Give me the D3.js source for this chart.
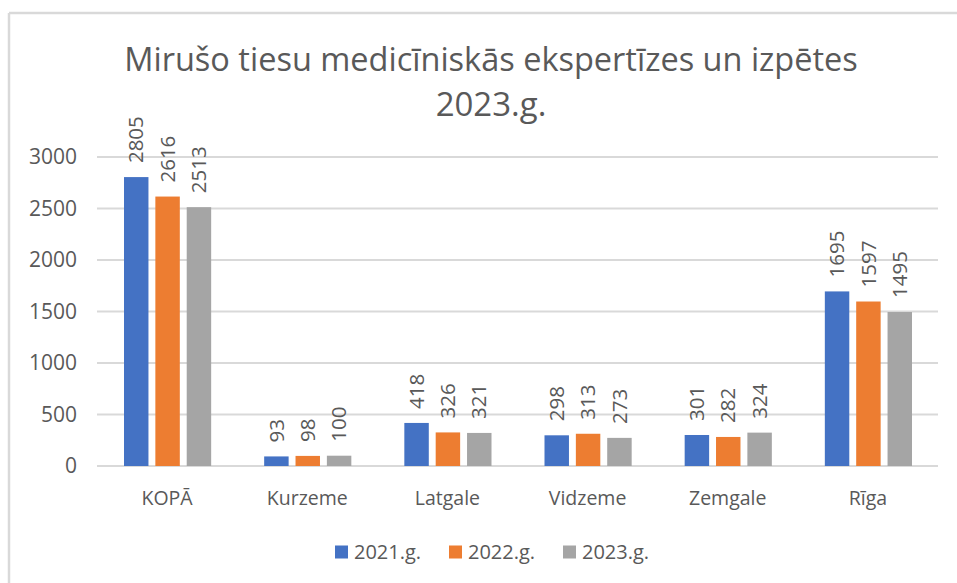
<!DOCTYPE html>
<html>
<head>
<meta charset="utf-8">
<script src="https://cdn.jsdelivr.net/npm/d3@7"></script>
<style>
  body { margin: 0; background: #fff; }
  svg { display: block; font-family: "Open Sans", "Noto Sans", sans-serif; }
</style>
</head>
<body>
<svg id="chart" width="957" height="583"></svg>
<script>
// --- Data ---
const categories = ["KOPĀ", "Kurzeme", "Latgale", "Vidzeme", "Zemgale", "Rīga"];
const seriesNames = ["2021.g.", "2022.g.", "2023.g."];
const values2021 = [2805, 93, 418, 298, 301, 1695];
const values2022 = [2616, 98, 326, 313, 282, 1597];
const values2023 = [2513, 100, 321, 273, 324, 1495];
const yTicks = [0, 500, 1000, 1500, 2000, 2500, 3000];
const colors = ["#4472c4", "#ed7d31", "#a5a5a5"];

const series = [values2021, values2022, values2023];
const textColor = "#595959";

const svg = d3.select("#chart");
const width = 957, height = 583;
const margin = { left: 97, right: 19, top: 157, bottom: 117 };

// frame (top and left edges only visible)
svg.append("line").attr("x1", 9).attr("x2", width).attr("y1", 13).attr("y2", 13)
  .attr("stroke", "#d9d9d9").attr("stroke-width", 2.5);
svg.append("line").attr("x1", 9).attr("x2", 9).attr("y1", 13).attr("y2", height)
  .attr("stroke", "#d9d9d9").attr("stroke-width", 2.5);

// --- Scales ---
const x = d3.scaleBand()
  .domain(categories)
  .range([margin.left, width - margin.right]);
const xInner = d3.scaleBand()
  .domain(seriesNames)
  .range([27, x.bandwidth() - 26])
  .paddingInner(0.22);
const y = d3.scaleLinear()
  .domain([0, 3000])
  .range([height - margin.bottom, margin.top]);

// --- Gridlines ---
svg.append("g")
  .selectAll("line")
  .data(yTicks)
  .join("line")
  .attr("x1", margin.left)
  .attr("x2", width - margin.right)
  .attr("y1", (d) => y(d))
  .attr("y2", (d) => y(d))
  .attr("stroke", "#d9d9d9")
  .attr("stroke-width", 2);

// --- Y axis labels ---
svg.append("g")
  .selectAll("text")
  .data(yTicks)
  .join("text")
  .attr("x", 77)
  .attr("y", (d) => y(d))
  .attr("dy", "0.35em")
  .attr("text-anchor", "end")
  .attr("font-size", 21)
  .attr("fill", textColor)
  .text((d) => d);

// --- Bars ---
const groups = svg.append("g")
  .selectAll("g")
  .data(categories)
  .join("g")
  .attr("transform", (d) => `translate(${x(d)},0)`);

groups.selectAll("rect")
  .data((d, i) => series.map((s, j) => ({ name: seriesNames[j], value: s[i], j })))
  .join("rect")
  .attr("x", (d) => xInner(d.name))
  .attr("y", (d) => y(d.value))
  .attr("width", xInner.bandwidth())
  .attr("height", (d) => y(0) - y(d.value))
  .attr("fill", (d) => colors[d.j]);

groups.selectAll("text.val")
  .data((d, i) => series.map((s, j) => ({ name: seriesNames[j], value: s[i], j })))
  .join("text")
  .attr("class", "val")
  .attr("transform", (d) =>
    `translate(${xInner(d.name) + xInner.bandwidth() / 2},${y(d.value) - 14}) rotate(-90)`)
  .attr("dy", "0.35em")
  .attr("font-size", 20.5)
  .attr("fill", textColor)
  .text((d) => d.value);

// --- Category labels ---
svg.append("g")
  .selectAll("text")
  .data(categories)
  .join("text")
  .attr("x", (d) => x(d) + x.bandwidth() / 2)
  .attr("y", 498)
  .attr("dy", "0.35em")
  .attr("text-anchor", "middle")
  .attr("font-size", 19.5)
  .attr("fill", textColor)
  .text((d) => d);

// --- Title ---
svg.append("text")
  .attr("x", 491)
  .attr("y", 71)
  .attr("text-anchor", "middle")
  .attr("font-size", 32.5)
  .attr("fill", textColor)
  .text("Mirušo tiesu medicīniskās ekspertīzes un izpētes");
svg.append("text")
  .attr("x", 491)
  .attr("y", 116)
  .attr("text-anchor", "middle")
  .attr("font-size", 33)
  .attr("fill", textColor)
  .text("2023.g.");

// --- Legend ---
const legendX = [335, 449, 563];
const legend = svg.append("g")
  .selectAll("g")
  .data(seriesNames)
  .join("g")
  .attr("transform", (d, i) => `translate(${legendX[i]},552)`);
legend.append("rect")
  .attr("x", 0).attr("y", -6.5)
  .attr("width", 13).attr("height", 13)
  .attr("fill", (d, i) => colors[i]);
legend.append("text")
  .attr("x", 19)
  .attr("dy", "0.35em")
  .attr("font-size", 20)
  .attr("fill", textColor)
  .text((d) => d);
</script>
</body>
</html>
